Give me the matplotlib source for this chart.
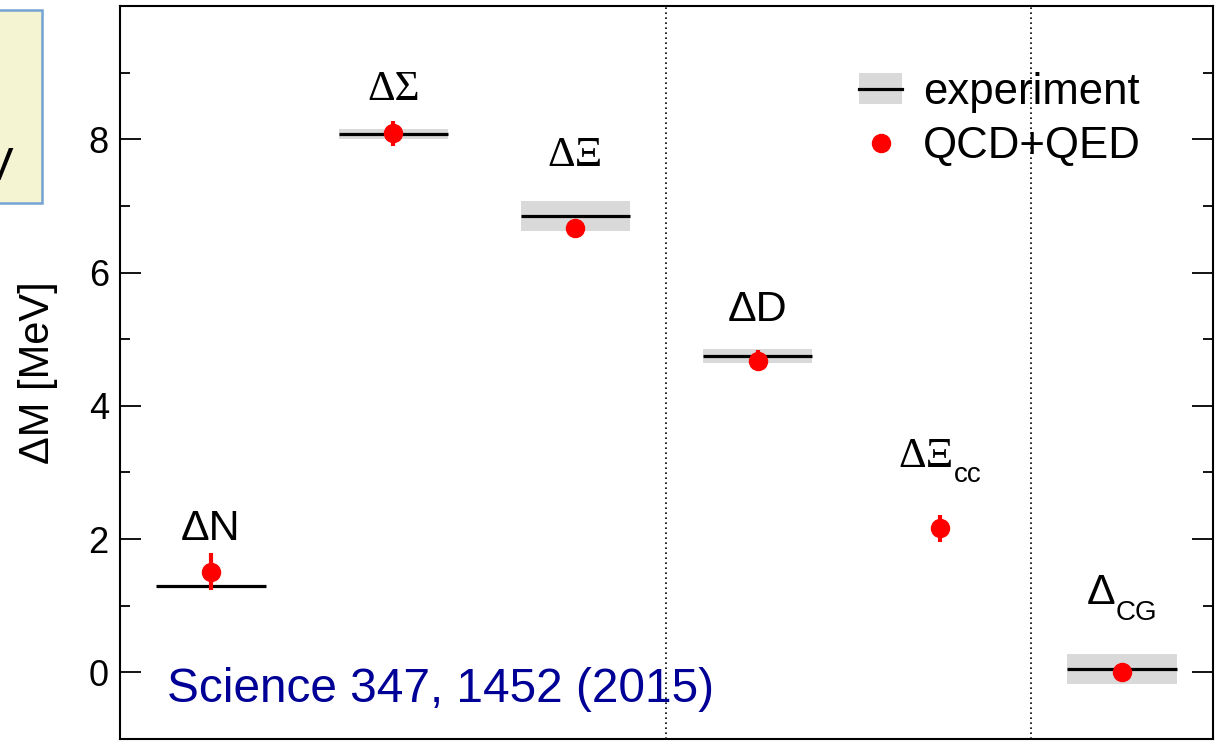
import numpy as np
import matplotlib.pyplot as plt
from matplotlib.patches import Patch, Rectangle
from matplotlib.lines import Line2D

plt.rcParams['font.family'] = ['Liberation Sans', 'DejaVu Sans']
SERIF = ['Liberation Serif', 'DejaVu Serif']

# data: isospin mass splittings [MeV]
nume = ['ΔN', 'ΔΣ', 'ΔΞ', 'ΔD', 'ΔΞ', 'Δ']
indici = ['', '', '', '', 'cc', 'CG']
cu_serife = [False, True, True, False, True, False]
qcd_val = [1.51, 8.09, 6.67, 4.68, 2.16, 0.00]
qcd_err = [0.28, 0.19, 0.14, 0.16, 0.20, 0.13]
exp_val = [1.29, 8.08, 6.85, 4.75, np.nan, 0.05]
exp_err = [0.0, 0.08, 0.22, 0.10, np.nan, 0.23]
label_y = [1.99, 8.59, 7.60, 5.27, 3.08, 1.02]
separatoare = [3.5, 5.5]

x = np.arange(1, len(nume) + 1)
exp_val = np.array(exp_val)
exp_err = np.array(exp_err)

fig = plt.figure(figsize=(12.19, 7.41), dpi=100)
ax = fig.add_axes([0.0984, 0.0027, 0.8967, 0.9892])

# bucata din caseta galbena din stanga (taiata in original)
fig.add_artist(Rectangle((-0.01, 0.726), 0.0445, 0.2605, transform=fig.transFigure,
                         facecolor='#f4f4d2', edgecolor='#74a3d4', lw=1.8, clip_on=False))
fig.text(0.0107, 0.757, 'V', fontsize=33, ha='right', va='baseline')

# experiment: banda gri + linie neagra
ax.bar(x, 2 * exp_err, bottom=exp_val - exp_err, width=0.6, color='#d9d9d9', zorder=1)
ax.hlines(exp_val, x - 0.3, x + 0.3, color='black', lw=2.3, zorder=2)

# QCD+QED
ax.errorbar(x, qcd_val, yerr=qcd_err, fmt='o', color='red', ms=13, elinewidth=3,
            capsize=0, zorder=3)

# etichete, cu indice separat
perechi = []
for xi, yi, nm, ind, ser in zip(x, label_y, nume, indici, cu_serife):
    fam = SERIF if ser else plt.rcParams['font.family']
    t = ax.annotate(nm, (xi, yi), xytext=(0, 0), textcoords='offset points',
                    fontsize=31, family=fam, ha='center', va='baseline')
    if ind:
        s = ax.annotate(ind, xy=(1, 0), xycoords=t, xytext=(0, -4.5),
                        textcoords='offset points', fontsize=20, va='baseline')
        perechi.append((t, s))

fig.canvas.draw()
rend = fig.canvas.get_renderer()
for t, s in perechi:
    w = s.get_window_extent(rend).width * 72 / fig.dpi
    t.xyann = (-w / 2, 0)

for sep in separatoare:
    ax.axvline(sep, color='black', ls=(0, (1, 2)), lw=1.2, zorder=0)

ax.text(0.043, 0.05, 'Science 347, 1452 (2015)', transform=ax.transAxes,
        fontsize=34.4, color='#000096', va='baseline')

h_exp = (Patch(facecolor='#d9d9d9', edgecolor='none'), Line2D([], [], color='black', lw=2.3))
h_qcd = Line2D([], [], ls='none', marker='o', color='red', ms=13)
ax.legend([h_exp, h_qcd], ['experiment', 'QCD+QED'], loc='upper right',
          bbox_to_anchor=(0.954, 0.94), frameon=False, fontsize=31.5,
          handlelength=0.98, handletextpad=0.48, labelspacing=0.3, borderpad=0)

ax.set_xlim(0.5, 6.5)
ax.set_ylim(-1, 10)
ax.set_xticks([])
ax.set_yticks([0, 2, 4, 6, 8])
ax.set_yticks([-1, 1, 3, 5, 7, 9], minor=True)
ax.tick_params(axis='y', which='both', direction='in', right=True, labelsize=26, pad=8)
ax.tick_params(axis='y', which='major', length=15, width=1.3)
ax.tick_params(axis='y', which='minor', length=7.5, width=1.3)
for sp in ax.spines.values():
    sp.set_linewidth(1.5)
ax.set_ylabel('ΔM [MeV]', fontsize=30)
ax.yaxis.set_label_coords(-0.0565, 0.5)

fig.savefig('out.png', dpi=100)
